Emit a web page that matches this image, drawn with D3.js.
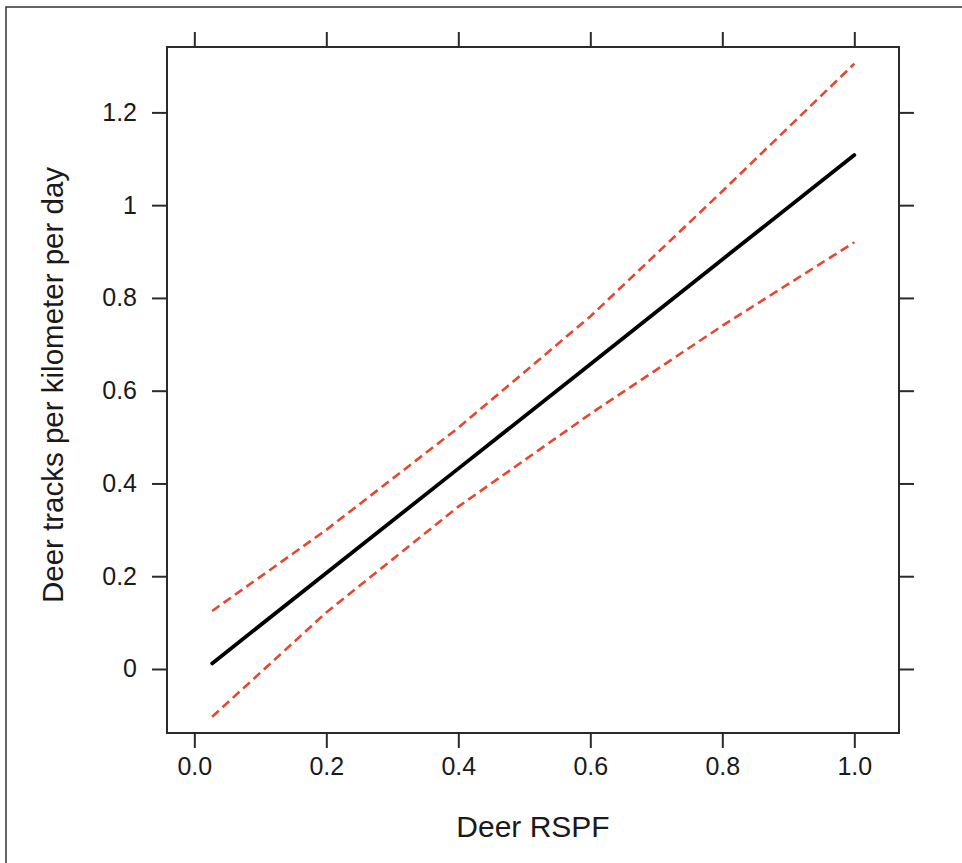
<!DOCTYPE html>
<html>
<head>
<meta charset="utf-8">
<script src="https://cdn.jsdelivr.net/npm/d3@7"></script>
<style>
  html, body { margin: 0; padding: 0; background: #fff; }
  svg { display: block; }
  text { font-family: "Liberation Sans", Arial, Helvetica, sans-serif; fill: #1a1a1a; }
</style>
</head>
<body>
<script>
// ---- data ----
const xTicks = [0.0, 0.2, 0.4, 0.6, 0.8, 1.0];
const xTickLabels = ["0.0", "0.2", "0.4", "0.6", "0.8", "1.0"];
const yTicks = [0, 0.2, 0.4, 0.6, 0.8, 1.0, 1.2];
const yTickLabels = ["0", "0.2", "0.4", "0.6", "0.8", "1", "1.2"];

const rspf   = [0.027, 0.2, 0.4, 0.6, 0.8, 1.0];
const fit    = [0.012, 0.207, 0.432, 0.657, 0.883, 1.108];
const upper  = [0.125, 0.30, 0.52, 0.76, 1.03, 1.305];
const lower  = [-0.103, 0.122, 0.35, 0.55, 0.74, 0.92];

const xTitle = "Deer RSPF";
const yTitle = "Deer tracks per kilometer per day";

// ---- layout ----
const W = 962, H = 863;
const box = { left: 167, right: 899, top: 47, bottom: 733 };

const svg = d3.select("body").append("svg").attr("width", W).attr("height", H);

// outer figure border
svg.append("rect")
  .attr("x", 6).attr("y", 7).attr("width", W + 10).attr("height", H + 10)
  .attr("fill", "none").attr("stroke", "#333").attr("stroke-width", 1.5);

const x = d3.scaleLinear().domain([-0.0414, 1.0677]).range([box.left, box.right]);
const y = d3.scaleLinear().domain([-0.138, 1.341]).range([box.bottom, box.top]);

const tickLen = 15;
const axisColor = "#2b2b2b";

function styleAxis(g, showLabels) {
  g.select(".domain").remove();
  g.selectAll(".tick line").attr("stroke", axisColor).attr("stroke-width", 2);
  g.selectAll(".tick text")
    .style("font-size", "25px")
    .style("font-family", '"Liberation Sans", Arial, sans-serif')
    .attr("fill", "#1a1a1a");
  if (!showLabels) g.selectAll(".tick text").remove();
}

// bottom axis
svg.append("g").attr("transform", `translate(0,${box.bottom})`)
  .call(d3.axisBottom(x).tickValues(xTicks).tickSize(tickLen).tickPadding(9)
    .tickFormat((d, i) => xTickLabels[i]))
  .call(g => styleAxis(g, true));

// top axis (ticks only)
svg.append("g").attr("transform", `translate(0,${box.top})`)
  .call(d3.axisTop(x).tickValues(xTicks).tickSize(tickLen).tickFormat(""))
  .call(g => styleAxis(g, false));

// left axis
svg.append("g").attr("transform", `translate(${box.left},0)`)
  .call(d3.axisLeft(y).tickValues(yTicks).tickSize(tickLen).tickPadding(15)
    .tickFormat((d, i) => yTickLabels[i]))
  .call(g => styleAxis(g, true));

// right axis (ticks only)
svg.append("g").attr("transform", `translate(${box.right},0)`)
  .call(d3.axisRight(y).tickValues(yTicks).tickSize(tickLen).tickFormat(""))
  .call(g => styleAxis(g, false));

// clip for plotting region
svg.append("clipPath").attr("id", "plotclip").append("rect")
  .attr("x", box.left).attr("y", box.top)
  .attr("width", box.right - box.left).attr("height", box.bottom - box.top);

const plot = svg.append("g").attr("clip-path", "url(#plotclip)");

const line = d3.line().x(d => x(d[0])).y(d => y(d[1]));

plot.append("path")
  .datum(rspf.map((v, i) => [v, upper[i]]))
  .attr("d", line).attr("fill", "none")
  .attr("stroke", "#e8462e").attr("stroke-width", 2.6)
  .attr("stroke-dasharray", "9,5");

plot.append("path")
  .datum(rspf.map((v, i) => [v, lower[i]]))
  .attr("d", line).attr("fill", "none")
  .attr("stroke", "#e8462e").attr("stroke-width", 2.6)
  .attr("stroke-dasharray", "9,5");

plot.append("path")
  .datum(rspf.map((v, i) => [v, fit[i]]))
  .attr("d", line).attr("fill", "none")
  .attr("stroke", "#000").attr("stroke-width", 3.8)
  .attr("stroke-linecap", "round");

// plot frame
svg.append("rect")
  .attr("x", box.left).attr("y", box.top)
  .attr("width", box.right - box.left).attr("height", box.bottom - box.top)
  .attr("fill", "none").attr("stroke", axisColor).attr("stroke-width", 2);

// axis titles
svg.append("text")
  .attr("x", (box.left + box.right) / 2).attr("y", 837)
  .attr("text-anchor", "middle")
  .style("font-size", "30px")
  .text(xTitle);

svg.append("text")
  .attr("transform", `translate(63,385) rotate(-90)`)
  .attr("text-anchor", "middle")
  .style("font-size", "29.5px")
  .text(yTitle);
</script>
</body>
</html>
